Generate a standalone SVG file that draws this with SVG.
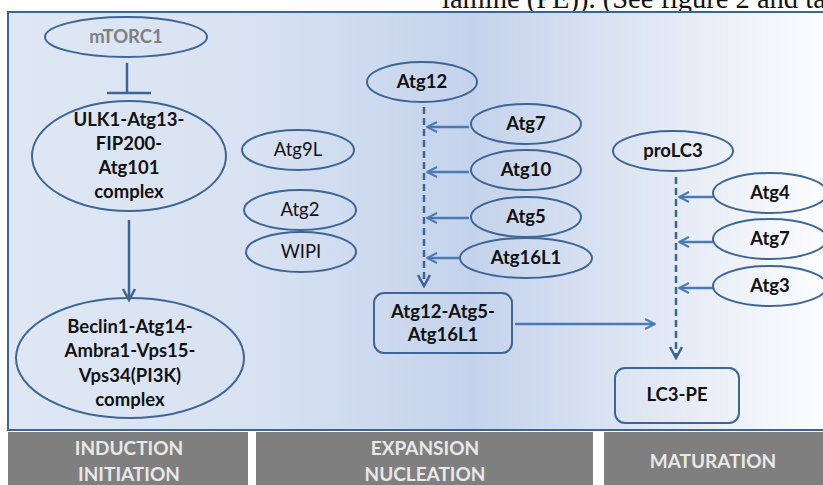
<svg xmlns="http://www.w3.org/2000/svg" width="823" height="485" viewBox="0 0 823 485">
<defs>
<linearGradient id="bg" gradientUnits="userSpaceOnUse" x1="8" y1="0" x2="823" y2="0">
<stop offset="0" stop-color="#dfe7f4"/>
<stop offset="0.3" stop-color="#d8e2f2"/>
<stop offset="0.57" stop-color="#c4d3ec"/>
<stop offset="0.75" stop-color="#dce4f2"/>
<stop offset="1" stop-color="#fbfcfe"/>
</linearGradient>
<marker id="open" viewBox="0 0 12 12" refX="11" refY="6" markerWidth="12" markerHeight="12" markerUnits="userSpaceOnUse" orient="auto">
<path d="M1,1 L11,6 L1,11" fill="none" stroke="#4a7ab5" stroke-width="2"/>
</marker>
<marker id="openDark" viewBox="0 0 14 14" refX="12" refY="7" markerWidth="14" markerHeight="14" markerUnits="userSpaceOnUse" orient="auto">
<path d="M1,1 L12,7 L1,13" fill="none" stroke="#3c6494" stroke-width="2.5"/>
</marker>
</defs>
<style>
.nd{fill:none;stroke:#3d6596;stroke-width:2}
.t{font-family:Lato,"Open Sans","Liberation Sans",sans-serif;font-size:18.5px;font-weight:bold;fill:#111;text-anchor:middle}
.n{font-weight:normal}
.g{fill:#808080}
.bar{fill:#7f7f7f}
.bt{font-family:Lato,"Open Sans","Liberation Sans",sans-serif;font-size:19px;font-weight:bold;fill:#e8e8e8;text-anchor:middle}
.dash{stroke:#3c6494;stroke-width:2.5;stroke-dasharray:7,4;fill:none}
.side{stroke:#4a7ab5;stroke-width:2.5;fill:none}
.main{stroke:#3c6494;stroke-width:2.5;fill:none}
</style>
<rect x="0" y="0" width="823" height="485" fill="#ffffff"/>
<text x="442" y="8" font-family="'Liberation Serif',serif" font-size="28.5" fill="#111">lamine (PE)). (See figure 2 and table</text>
<rect x="8" y="12" width="830" height="418" fill="url(#bg)" stroke="#3c6494" stroke-width="2"/>

<g id="connectors">
<line x1="127" y1="63" x2="127" y2="93" class="main"/>
<line x1="107" y1="93" x2="151" y2="93" class="main"/>
<line x1="129" y1="220" x2="129" y2="300" class="main" marker-end="url(#openDark)"/>
<line x1="424" y1="107" x2="424" y2="286" class="dash" marker-end="url(#openDark)"/>
<line x1="469" y1="127" x2="427" y2="127" class="side" marker-end="url(#open)"/>
<line x1="469" y1="172" x2="427" y2="172" class="side" marker-end="url(#open)"/>
<line x1="469" y1="218" x2="427" y2="218" class="side" marker-end="url(#open)"/>
<line x1="459" y1="258" x2="427" y2="258" class="side" marker-end="url(#open)"/>
<line x1="515" y1="324" x2="655" y2="324" class="side" marker-end="url(#open)"/>
<line x1="676" y1="177" x2="676" y2="358" class="dash" marker-end="url(#openDark)"/>
<line x1="713" y1="197" x2="679" y2="197" class="side" marker-end="url(#open)"/>
<line x1="713" y1="242" x2="679" y2="242" class="side" marker-end="url(#open)"/>
<line x1="713" y1="288" x2="679" y2="288" class="side" marker-end="url(#open)"/>
</g>

<g id="mTORC1"><ellipse cx="126" cy="37" rx="81" ry="20" class="nd"/><text x="126" y="43" class="t g">mTORC1</text></g>
<g id="ULK1"><ellipse cx="129" cy="156" rx="97" ry="55" class="nd"/>
<text class="t"><tspan x="129" y="126">ULK1-Atg13-</tspan><tspan x="129" y="150">FIP200-</tspan><tspan x="129" y="174">Atg101</tspan><tspan x="129" y="198">complex</tspan></text></g>
<g id="Beclin1"><ellipse cx="130" cy="358" rx="114" ry="60" class="nd"/>
<text class="t"><tspan x="130" y="333">Beclin1-Atg14-</tspan><tspan x="130" y="357">Ambra1-Vps15-</tspan><tspan x="130" y="382">Vps34(PI3K)</tspan><tspan x="130" y="406">complex</tspan></text></g>
<g id="Atg9L"><ellipse cx="298" cy="150" rx="56" ry="20" class="nd"/><text x="298" y="156" class="t n">Atg9L</text></g>
<g id="Atg2"><ellipse cx="300" cy="210" rx="56" ry="20" class="nd"/><text x="300" y="216" class="t n">Atg2</text></g>
<g id="WIPI"><ellipse cx="301" cy="252" rx="55" ry="20" class="nd"/><text x="301" y="258" class="t n">WIPI</text></g>
<g id="Atg12"><ellipse cx="422" cy="82" rx="55" ry="20" class="nd"/><text x="422" y="88" class="t">Atg12</text></g>
<g id="Atg7a"><ellipse cx="526" cy="124" rx="55" ry="20" class="nd"/><text x="526" y="130" class="t">Atg7</text></g>
<g id="Atg10"><ellipse cx="526" cy="170" rx="55" ry="20" class="nd"/><text x="526" y="176" class="t">Atg10</text></g>
<g id="Atg5"><ellipse cx="526" cy="217" rx="55" ry="20" class="nd"/><text x="526" y="223" class="t">Atg5</text></g>
<g id="Atg16L1"><ellipse cx="526" cy="258" rx="66" ry="20" class="nd"/><text x="526" y="264" class="t">Atg16L1</text></g>
<g id="Atg12-Atg5-Atg16L1"><rect x="374" y="293" width="138" height="60" rx="10" class="nd"/>
<text class="t"><tspan x="443" y="318">Atg12-Atg5-</tspan><tspan x="443" y="341">Atg16L1</tspan></text></g>
<g id="proLC3"><ellipse cx="673" cy="151" rx="60" ry="20" class="nd"/><text x="673" y="157" class="t">proLC3</text></g>
<g id="Atg4"><ellipse cx="770" cy="193" rx="57" ry="20" class="nd"/><text x="770" y="199" class="t">Atg4</text></g>
<g id="Atg7b"><ellipse cx="770" cy="239" rx="57" ry="20" class="nd"/><text x="770" y="245" class="t">Atg7</text></g>
<g id="Atg3"><ellipse cx="770" cy="286" rx="57" ry="20" class="nd"/><text x="770" y="292" class="t">Atg3</text></g>
<g id="LC3-PE"><rect x="615" y="368" width="124" height="55" rx="10" class="nd"/><text x="677" y="401" class="t">LC3-PE</text></g>

<g id="phases">
<rect x="8" y="432" width="240" height="53" class="bar"/>
<rect x="256" y="432" width="337" height="53" class="bar"/>
<rect x="604" y="432" width="219" height="53" class="bar"/>
<text class="bt"><tspan x="129" y="455">INDUCTION</tspan><tspan x="129" y="481">INITIATION</tspan></text>
<text class="bt"><tspan x="425" y="455">EXPANSION</tspan><tspan x="425" y="481">NUCLEATION</tspan></text>
<text x="713" y="468" class="bt">MATURATION</text>
</g>
</svg>
